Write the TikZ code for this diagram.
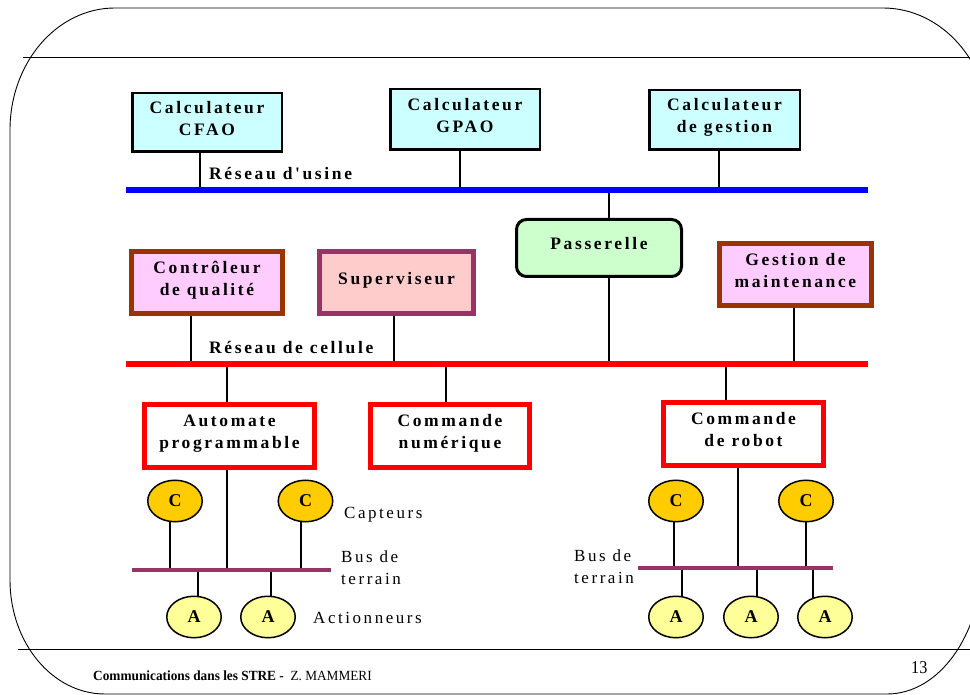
\documentclass[tikz,border=0pt]{standalone}
\usepackage{fontspec}
\usepackage{graphicx}
\setmainfont{Liberation Serif}
\newfontfamily\spaced[LetterSpace=15]{Liberation Serif}
\usetikzlibrary{shapes.geometric,backgrounds}

\definecolor{calcfill}{HTML}{CCFFFF}
\definecolor{pinkfill}{HTML}{FFCCFF}
\definecolor{superfill}{HTML}{FFCCCC}
\definecolor{superline}{HTML}{993366}
\definecolor{brownline}{HTML}{993300}
\definecolor{gatefill}{HTML}{CCFFCC}
\definecolor{capfill}{HTML}{FFCC00}
\definecolor{actfill}{HTML}{FFFF99}
\definecolor{fieldbus}{HTML}{993366}
\definecolor{netblue}{HTML}{0000FF}
\definecolor{netred}{HTML}{FF0000}

\tikzset{
  boldtxt/.style={font=\spaced\bfseries\fontsize{17.5}{22}\selectfont},
  plaintxt/.style={font=\spaced\fontsize{17}{22}\selectfont},
  box/.style={boldtxt, rectangle, inner sep=0pt, align=center, text depth=9pt},
  calcbox/.style={box, draw=black, line width=2.5pt, fill=calcfill},
  qualbox/.style={box, draw=brownline, line width=5pt, fill=pinkfill},
  superbox/.style={box, draw=superline, line width=5pt, fill=superfill},
  gatebox/.style={box, draw=black, line width=3pt, fill=gatefill, rounded corners=10pt},
  ctrlbox/.style={box, draw=netred, line width=5pt, fill=white},
  sensor/.style={ellipse, draw=black, line width=1.5pt, fill=capfill, inner sep=0pt,
    minimum width=54.5pt, minimum height=41.5pt, font=\bfseries\fontsize{18}{18}\selectfont},
  actuator/.style={sensor, fill=actfill},
  link/.style={draw=black, line width=2pt},
  bus/.style={line width=6pt},
  fbus/.style={line width=4.5pt, draw=fieldbus},
  frameline/.style={draw=black, line width=0.9pt},
  lbl/.style={inner sep=0pt, anchor=base west},
}

\begin{document}
\begin{tikzpicture}[x=1pt, y=-1pt]
\useasboundingbox (0,0) rectangle (970,695);

% slide frame with elliptical corners
\begin{scope}
  \clip (0,0) rectangle (970,695);
  \draw[frameline] (10,130) .. controls (10,62.6) and (57,8) .. (115,8)
    -- (883,8) .. controls (942,8) and (990,62.6) .. (990,130)
    -- (982,560) .. controls (982,634) and (939.5,694) .. (887,694)
    -- (105,694) .. controls (52.5,694) and (10,643) .. (10,580) -- cycle;
  \draw[frameline] (23,57) -- (975,57);
  \draw[frameline] (18,649) -- (975,649);
\end{scope}

% upper level: factory network
\node[calcbox, minimum width=149.5pt, minimum height=58.5pt] (cfao) at (207,122.5) {Calculateur\\CFAO};
\node[calcbox, minimum width=149.5pt, minimum height=60.5pt] (gpao) at (465,119.5) {Calculateur\\GPAO};
\node[calcbox, minimum width=150.5pt, minimum height=59.5pt] (gest) at (724.5,120) {Calculateur\\de gestion};

\coordinate (usineL) at (126,190);
\coordinate (usineR) at (868,190);
\node[lbl, boldtxt] (usinelbl) at (209,180) {Réseau d'usine};

% cell level
\node[qualbox, minimum width=151pt, minimum height=62pt] (qual) at (207,282.5) {Contrôleur\\de qualité};
\node[superbox, minimum width=154pt, minimum height=62pt] (super) at (396.5,282.5) {Superviseur};
\node[gatebox, minimum width=165pt, minimum height=57pt] (gate) at (599,248) {Passerelle};
\node[qualbox, minimum width=152pt, minimum height=62pt] (maint) at (795.5,274.5) {Gestion de\\maintenance};

\coordinate (cellL) at (126,364);
\coordinate (cellR) at (868,364);
\node[lbl, boldtxt] (celllbl) at (209,353) {Réseau de cellule};

% controllers
\node[ctrlbox, minimum width=170pt, minimum height=63pt] (plc) at (229.5,436) {Automate\\programmable};
\node[ctrlbox, minimum width=159pt, minimum height=63pt] (cnc) at (450,436) {Commande\\numérique};
\node[ctrlbox, minimum width=160pt, minimum height=63pt] (robot) at (743.5,434) {Commande\\de robot};

% field level, left
\node[sensor] (c1) at (175,501) {C};
\node[sensor] (c2) at (305.5,501) {C};
\node[actuator] (a1) at (194,617) {A};
\node[actuator] (a2) at (268,617) {A};
\coordinate (fieldL1) at (132,570);
\coordinate (fieldL2) at (331,570);
\node[lbl, plaintxt] (caplbl) at (344,518) {Capteurs};
\node[lbl, plaintxt, align=left, anchor=north west] (busl) at (341,551) {Bus de\\terrain};
\node[lbl, plaintxt] (actlbl) at (313,623) {Actionneurs};

% field level, right
\node[sensor] (c3) at (676,501) {C};
\node[sensor] (c4) at (806,501) {C};
\node[actuator] (a3) at (676,617) {A};
\node[actuator] (a4) at (751,617) {A};
\node[actuator] (a5) at (825,617) {A};
\coordinate (fieldR1) at (638,568);
\coordinate (fieldR2) at (833,568);
\node[lbl, plaintxt, align=left, anchor=north west] (busr) at (574,550) {Bus de\\terrain};

% footer
\node[lbl] (footer) at (93,680) {\scalebox{0.95}[1]{\fontsize{14}{14}\selectfont\bfseries Communications dans les STRE - \mdseries\ Z. MAMMERI}};
\node[lbl] (pagenum) at (911,673) {\scalebox{0.9}[1]{\fontsize{18}{18}\selectfont 13}};

% drops and buses, behind the boxes
\begin{pgfonlayer}{background}
  \draw[link] ([xshift=-7pt]cfao.center) -- ([xshift=-7pt]cfao.center |- usineL);
  \draw[link] ([xshift=-5pt]gpao.center) -- ([xshift=-5pt]gpao.center |- usineL);
  \draw[link] ([xshift=-5.5pt]gest.center) -- ([xshift=-5.5pt]gest.center |- usineL);
  \draw[link] ([xshift=10pt]gate.center |- usineL) -- ([xshift=10pt]gate.center |- cellL);
  \draw[link] ([xshift=-16pt]qual.center) -- ([xshift=-16pt]qual.center |- cellL);
  \draw[link] ([xshift=-2.5pt]super.center) -- ([xshift=-2.5pt]super.center |- cellL);
  \draw[link] ([xshift=-1.5pt]maint.center) -- ([xshift=-1.5pt]maint.center |- cellL);
  \draw[link] ([xshift=-2.5pt]plc.center |- cellL) -- ([xshift=-2.5pt]plc.center |- fieldL1);
  \draw[link] ([xshift=-4pt]cnc.center |- cellL) -- ([xshift=-4pt]cnc.center);
  \draw[link] ([xshift=-17.5pt]robot.center |- cellL) -- ([xshift=-17.5pt]robot.center);
  \draw[link] ([xshift=-5.5pt]robot.center) -- ([xshift=-5.5pt]robot.center |- fieldR1);
  \draw[link] ([xshift=-5pt]c1.center) -- ([xshift=-5pt]c1.center |- fieldL1);
  \draw[link] ([xshift=-4.5pt]c2.center) -- ([xshift=-4.5pt]c2.center |- fieldL1);
  \draw[link] ([xshift=-2pt]c3.center) -- ([xshift=-2pt]c3.center |- fieldR1);
  \draw[link] (c4.center) -- (c4.center |- fieldR1);
  \draw[link] ([xshift=4pt]a1.center |- fieldL1) -- ([xshift=4pt]a1.center);
  \draw[link] ([xshift=3pt]a2.center |- fieldL1) -- ([xshift=3pt]a2.center);
  \draw[link] ([xshift=6pt]a3.center |- fieldR1) -- ([xshift=6pt]a3.center);
  \draw[link] ([xshift=6pt]a4.center |- fieldR1) -- ([xshift=6pt]a4.center);
  \draw[link] ([xshift=-12pt]a5.center |- fieldR1) -- ([xshift=-12pt]a5.center);
\end{pgfonlayer}

\draw[bus, draw=netblue] (usineL) -- (usineR);
\draw[bus, draw=netred] (cellL) -- (cellR);
\draw[fbus] (fieldL1) -- (fieldL2);
\draw[fbus] (fieldR1) -- (fieldR2);
\end{tikzpicture}
\end{document}
